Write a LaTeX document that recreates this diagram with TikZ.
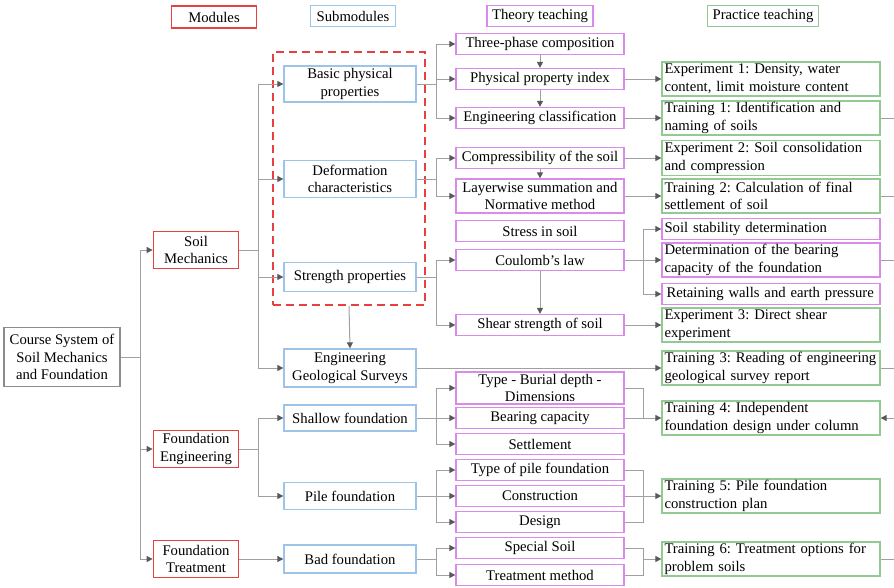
\documentclass[tikz,border=0pt]{standalone}
\usepackage{fontspec}
\setmainfont{Liberation Serif}
\usepackage{tikz}
\usetikzlibrary{arrows.meta}
\definecolor{modred}{HTML}{E8403F}
\definecolor{subblue}{HTML}{9DC3E6}
\definecolor{thpink}{HTML}{D88BE8}
\definecolor{prgreen}{HTML}{93C993}
\definecolor{crsgray}{HTML}{8C8C8C}
\definecolor{linegray}{HTML}{A0A0A0}
\definecolor{tipgray}{HTML}{595959}

\begin{document}
\begin{tikzpicture}[x=1pt, y=-1pt,
		>={Triangle[length=6pt, width=6pt, color=tipgray]},
		conn/.style={draw=linegray, line width=1pt},
		box/.style={draw, line width=1.3pt, inner xsep=3pt, inner ysep=0pt, align=center,
			font=\fontsize{14.7}{17.7}\selectfont\frenchspacing},
		module/.style={box, draw=modred, line width=1.8pt, minimum width=85, minimum height=37},
		submodule/.style={box, draw=subblue, minimum width=132},
		theory/.style={box, draw=thpink, minimum width=168, minimum height=21},
		practice/.style={box, draw=prgreen, text width=213, align=left, inner xsep=2.5pt, minimum height=34},
		tpractice/.style={practice, draw=thpink},
		header/.style={box, minimum height=21}
	]
		\useasboundingbox (0,0) rectangle (894,587);
		
		\node[header, draw=modred, line width=1.8pt, minimum width=85, minimum height=22] (hmod) at (214,17) {Modules};
		\node[header, draw=subblue, minimum width=85] (hsub) at (353,16) {Submodules};
		\node[header, draw=thpink, minimum width=106] (htheory) at (540,16) {Theory teaching};
		\node[header, draw=prgreen, minimum width=111] (hpractice) at (763,16) {Practice teaching};
		
		\node[box, draw=crsgray, minimum width=116, minimum height=59] (course) at (62,357) {Course System of\\Soil Mechanics\\and Foundation};
		
		\node[module] (soil) at (196,250) {Soil\\Mechanics};
		\node[module] (fdeng) at (196,449) {Foundation\\Engineering};
		\node[module] (fdtreat) at (196,559) {Foundation\\Treatment};
		
		\node[draw=modred, line width=1.8pt, dash pattern=on 8pt off 5pt, minimum width=152, minimum height=253] (grp) at (349,178.5) {};
		\node[submodule, minimum height=36] (basic) at (350,84) {Basic physical\\properties};
		\node[submodule, minimum height=37] (deform) at (350,179) {Deformation\\characteristics};
		\node[submodule, minimum height=29] (strength) at (350,277) {Strength properties};
		\node[submodule, minimum height=38] (geo) at (350,368) {Engineering\\Geological Surveys};
		\node[submodule, minimum height=26] (shallow) at (350,418) {Shallow foundation};
		\node[submodule, minimum height=27] (pile) at (350,496) {Pile foundation};
		\node[submodule, minimum height=28] (bad) at (350,559) {Bad foundation};
		
		\node[theory] (three) at (540,44) {Three-phase composition};
		\node[theory] (phys) at (540,79) {Physical property index};
		\node[theory] (engcls) at (540,118) {Engineering classification};
		\node[theory] (compr) at (540,158) {Compressibility of the soil};
		\node[theory, minimum height=34] (layer) at (540,196) {Layerwise summation and\\Normative method};
		\node[theory] (stress) at (540,231) {Stress in soil};
		\node[theory] (coulomb) at (540,260) {Coulomb's law};
		\node[theory] (shear) at (540,325) {Shear strength of soil};
		\node[theory, minimum height=32] (ptype) at (540,388) {Type - Burial depth -\\Dimensions};
		\node[theory] (bearing) at (540,418) {Bearing capacity};
		\node[theory] (settle) at (540,444) {Settlement};
		\node[theory] (piletype) at (540,470) {Type of pile foundation};
		\node[theory] (constr) at (540,496) {Construction};
		\node[theory] (design) at (540,522) {Design};
		\node[theory] (special) at (540,548) {Special Soil};
		\node[theory] (treat) at (540,575) {Treatment method};
		
		\node[practice] (exp1) at (771,79) {Experiment 1: Density, water\\content, limit moisture content};
		\node[practice] (tr1) at (771,118) {Training 1: Identification and\\naming of soils};
		\node[practice, minimum height=35] (exp2) at (771,158) {Experiment 2: Soil consolidation\\and compression};
		\node[practice] (tr2) at (771,196) {Training 2: Calculation of final\\settlement of soil};
		\node[tpractice, minimum height=21] (stab) at (771,229) {Soil stability determination};
		\node[tpractice] (bearcap) at (771,260) {Determination of the bearing\\capacity of the foundation};
		\node[tpractice, minimum height=21] (retain) at (771,294) {\hspace{2pt}Retaining walls and earth pressure};
		\node[practice] (exp3) at (771,325) {Experiment 3: Direct shear\\experiment};
		\node[practice] (tr3) at (771,368) {Training 3: Reading of engineering\\geological survey report};
		\node[practice] (tr4) at (771,418) {Training 4: Independent\\foundation design under column};
		\node[practice] (tr5) at (771,496) {Training 5: Pile foundation\\construction plan};
		\node[practice] (tr6) at (771,559) {Training 6: Treatment options for\\problem soils};
		
		\coordinate (jcourse) at (140,357);
		\coordinate (jsoil) at (258,250);
		\coordinate (jfdeng) at (258,449);
		\coordinate (jbasic) at (436,84);
		\coordinate (jdeform) at (436,179);
		\coordinate (jstrength) at (436,277);
		\coordinate (jshallow) at (436,418);
		\coordinate (jpile) at (436,496);
		\coordinate (jbad) at (436,559);
		\coordinate (jcoulomb) at (643,260);
		\coordinate (jptype) at (643,418);
		\coordinate (jpiletype) at (643,496);
		\coordinate (jspecial) at (643,559);
		\coordinate (edge) at (894,0);
		
		\draw[conn] (course.east) -- (jcourse);
		\foreach \m in {soil, fdeng, fdtreat}
			\draw[conn, ->] (jcourse) |- (\m.west);
		
		\draw[conn] (soil.east) -- (jsoil);
		\foreach \s in {basic, deform, strength, geo}
			\draw[conn, ->] (jsoil) |- (\s.west);
		\draw[conn] (fdeng.east) -- (jfdeng);
		\foreach \s in {shallow, pile}
			\draw[conn, ->] (jfdeng) |- (\s.west);
		\draw[conn, ->] (fdtreat.east) -- (bad.west);
		\draw[conn, ->] (grp.south) -- (geo.north);
		
		\draw[conn] (basic.east) -- (jbasic);
		\foreach \t in {three, phys, engcls}
			\draw[conn, ->] (jbasic) |- (\t.west);
		\draw[conn] (deform.east) -- (jdeform);
		\foreach \t in {compr, layer}
			\draw[conn, ->] (jdeform) |- (\t.west);
		\draw[conn] (strength.east) -- (jstrength);
		\foreach \t in {coulomb, shear}
			\draw[conn, ->] (jstrength) |- (\t.west);
		\draw[conn] (shallow.east) -- (jshallow);
		\foreach \t in {ptype, bearing, settle}
			\draw[conn, ->] (jshallow) |- (\t.west);
		\draw[conn] (pile.east) -- (jpile);
		\foreach \t in {piletype, constr, design}
			\draw[conn, ->] (jpile) |- (\t.west);
		\draw[conn] (bad.east) -- (jbad);
		\foreach \t in {special, treat}
			\draw[conn, ->] (jbad) |- (\t.west);
		
		\draw[conn, ->] (three.south) -- (phys.north);
		\draw[conn, ->] (phys.south) -- (engcls.north);
		\draw[conn, ->] (compr.south) -- (layer.north);
		\draw[conn, ->] (coulomb.south) -- (shear.north);
		
		\draw[conn, ->] (phys.east) -- (exp1.west);
		\draw[conn, ->] (engcls.east) -- (tr1.west);
		\draw[conn, ->] (compr.east) -- (exp2.west);
		\draw[conn, ->] (layer.east) -- (tr2.west);
		\draw[conn] (coulomb.east) -- (jcoulomb);
		\foreach \p in {stab, bearcap, retain}
			\draw[conn, ->] (jcoulomb) |- (\p.west);
		\draw[conn, ->] (shear.east) -- (exp3.west);
		\draw[conn, ->] (geo.east) -- (tr3.west);
		\draw[conn] (ptype.east) -| (jptype);
		\draw[conn, ->] (bearing.east) -- (tr4.west);
		\draw[conn] (piletype.east) -| (jpiletype);
		\draw[conn] (design.east) -| (jpiletype);
		\draw[conn, ->] (constr.east) -- (tr5.west);
		\draw[conn] (special.east) -| (jspecial);
		\draw[conn] (treat.east) -| (jspecial);
		\draw[conn, ->] (jspecial) -- (tr6.west);
		
		\foreach \p in {tr1, tr2, bearcap, tr3, tr6}
			\draw[conn] (\p.east) -- (\p.east -| edge);
		\draw[conn, ->] (tr4.east -| edge) -- (tr4.east);
	\end{tikzpicture}
\end{document}
